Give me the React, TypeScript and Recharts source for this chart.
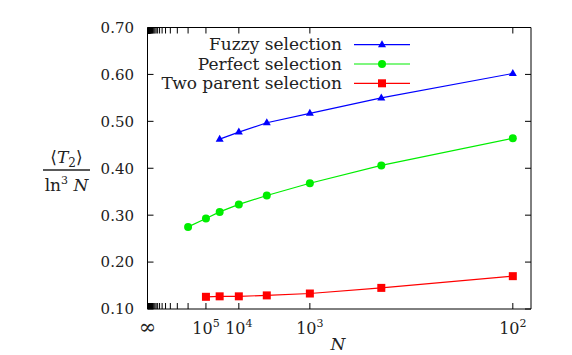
import React from 'react';
import { LineChart, Line, XAxis, YAxis } from 'recharts';

// N = 10^exponent, plotted against 1 / ln^2 N
const exponents = [6, 5, 4.5, 4, 3.5, 3, 2.5, 2];
const fuzzy = [null, null, 0.462, 0.477, 0.497, 0.517, 0.55, 0.602];
const perfect = [0.275, 0.293, 0.307, 0.323, 0.342, 0.368, 0.406, 0.464];
const twoParent = [null, 0.126, 0.127, 0.127, 0.129, 0.133, 0.145, 0.17];

const majorExponents = [5, 4, 3, 2];
const minorExponents = Array.from({ length: 35 }, (_, i) => i + 6);
const yTicks = [0.1, 0.2, 0.3, 0.4, 0.5, 0.6, 0.7];

const toX = (exp: number) => 1 / Math.pow(exp * Math.LN10, 2);

const data = exponents.map((e, i) => ({
  x: toX(e),
  fuzzy: fuzzy[i],
  perfect: perfect[i],
  twoParent: twoParent[i],
}));

const xTicks = [0, ...majorExponents.map(toX), ...minorExponents.map(toX)];

const FONT = '"DejaVu Serif", serif';
const TEXT = '#222';
const BLUE = '#0000ff';
const GREEN = '#00ee00';
const RED = '#ff0000';
const TICK = 6;

const W = 572;
const H = 355;
const margin = { top: 17.5, right: 31, bottom: 16, left: 87.5 };
const Y_AXIS_W = 60;
const X_AXIS_H = 30;
const plotW = W - margin.left - margin.right - Y_AXIS_W - 10;
const plotH = H - margin.top - margin.bottom - X_AXIS_H - 10;

const majorOf = (v: number) => majorExponents.find((e) => Math.abs(toX(e) - v) < 1e-12);

// bottom tick: inward line at bottom and mirrored one at top, label below
const BottomTick = (props: any) => {
  const { x, y, payload } = props;
  const v = payload.value;
  if (v === 0) {
    return (
      <text x={x} y={y + 25} textAnchor="middle" fontFamily={FONT} fontSize={21} fill={TEXT}>
        ∞
      </text>
    );
  }
  const e = majorOf(v);
  return (
    <g>
      <line x1={x} x2={x} y1={y} y2={y - TICK} stroke="#000" />
      <line x1={x} x2={x} y1={y - plotH} y2={y - plotH + TICK} stroke="#000" />
      {e !== undefined && (
        <text x={x} y={y + 25} textAnchor="middle" fontFamily={FONT} fontSize={16} fill={TEXT}>
          10
          <tspan fontSize={11} dy={-7}>
            {e}
          </tspan>
        </text>
      )}
    </g>
  );
};

const LeftTick = (props: any) => {
  const { x, y, payload } = props;
  return (
    <g>
      <line x1={x} x2={x + TICK} y1={y} y2={y} stroke="#000" />
      <line x1={x + plotW} x2={x + plotW - TICK} y1={y} y2={y} stroke="#000" />
      <text x={x - 13.5} y={y} dy="0.36em" textAnchor="end" fontFamily={FONT} fontSize={15} fill={TEXT}>
        {payload.value.toFixed(2)}
      </text>
    </g>
  );
};

const triangle = (cx: number, cy: number, color: string, key?: any) => (
  <polygon
    key={key}
    points={`${cx},${cy - 4.5} ${cx - 4},${cy + 2.5} ${cx + 4},${cy + 2.5}`}
    fill={color}
  />
);
const circle = (cx: number, cy: number, color: string, key?: any) => (
  <circle key={key} cx={cx} cy={cy} r={4} fill={color} />
);
const square = (cx: number, cy: number, color: string, key?: any) => (
  <rect key={key} x={cx - 4} y={cy - 4} width={8} height={8} fill={color} />
);

const dotOf = (shape: typeof circle, color: string) => (p: any) => {
  if (p.cx == null || p.cy == null || !isFinite(p.cy)) return <g key={p.index} />;
  return shape(p.cx, p.cy, color, p.index);
};

const legendRows = [
  { name: 'Fuzzy selection', color: BLUE, shape: triangle },
  { name: 'Perfect selection', color: GREEN, shape: circle },
  { name: 'Two parent selection', color: RED, shape: square },
];

const Overlay = () => (
  <svg width={W} height={H} style={{ position: 'absolute', left: 0, top: 0, pointerEvents: 'none' }}>
    {legendRows.map((r, i) => {
      const y = 44.7 + i * 19.3;
      return (
        <g key={r.name}>
          <text x={342} y={y + 5.5} textAnchor="end" fontFamily={FONT} fontSize={17} fill={TEXT}>
            {r.name}
          </text>
          <line x1={354} x2={410} y1={y} y2={y} stroke={r.color} strokeWidth={1.2} />
          {r.shape(382, y, r.color)}
        </g>
      );
    })}
    {/* y-axis label: <T2> / ln^3 N */}
    <text x={66.5} y={163} textAnchor="middle" fontFamily={FONT} fontSize={17} fill={TEXT}>
      ⟨<tspan fontStyle="italic">T</tspan>
      <tspan fontSize={12} dy={4}>2</tspan>
      <tspan dy={-4}>⟩</tspan>
    </text>
    <line x1={43} x2={90} y1={170} y2={170} stroke={TEXT} strokeWidth={1.3} />
    <text x={66.5} y={191} textAnchor="middle" fontFamily={FONT} fontSize={17} fill={TEXT}>
      ln
      <tspan fontSize={11} dy={-7}>3</tspan>
      <tspan dy={7}> </tspan>
      <tspan fontStyle="italic">N</tspan>
    </text>
    <text x={338} y={350} textAnchor="middle" fontFamily={FONT} fontSize={17} fontStyle="italic" fill={TEXT}>
      N
    </text>
  </svg>
);

export default function App() {
  return (
    <div style={{ position: 'absolute', left: 0, top: 0, width: W, height: H, background: '#fff' }}>
      <LineChart width={W} height={H} data={data} margin={margin}>
        <XAxis
          dataKey="x"
          type="number"
          domain={[0, 0.0495]}
          allowDataOverflow
          ticks={xTicks}
          interval={0}
          height={X_AXIS_H}
          tickSize={0}
          tickMargin={0}
          tickLine={false}
          tick={<BottomTick />}
          axisLine={{ stroke: '#000' }}
        />
        <XAxis
          xAxisId="top"
          orientation="top"
          type="number"
          domain={[0, 0.0495]}
          height={10}
          tick={false}
          tickLine={false}
          axisLine={{ stroke: '#000' }}
        />
        <YAxis
          type="number"
          domain={[0.1, 0.7]}
          ticks={yTicks}
          interval={0}
          width={Y_AXIS_W}
          tickSize={0}
          tickMargin={0}
          tickLine={false}
          tick={<LeftTick />}
          axisLine={{ stroke: '#000' }}
        />
        <YAxis
          yAxisId="right"
          orientation="right"
          type="number"
          domain={[0.1, 0.7]}
          width={10}
          tick={false}
          tickLine={false}
          axisLine={{ stroke: '#000' }}
        />
        <Line
          dataKey="twoParent"
          stroke={RED}
          strokeWidth={1.2}
          dot={dotOf(square, RED)}
          isAnimationActive={false}
        />
        <Line
          dataKey="perfect"
          stroke={GREEN}
          strokeWidth={1.2}
          dot={dotOf(circle, GREEN)}
          isAnimationActive={false}
        />
        <Line
          dataKey="fuzzy"
          stroke={BLUE}
          strokeWidth={1.2}
          dot={dotOf(triangle, BLUE)}
          isAnimationActive={false}
        />
      </LineChart>
      <Overlay />
    </div>
  );
}
